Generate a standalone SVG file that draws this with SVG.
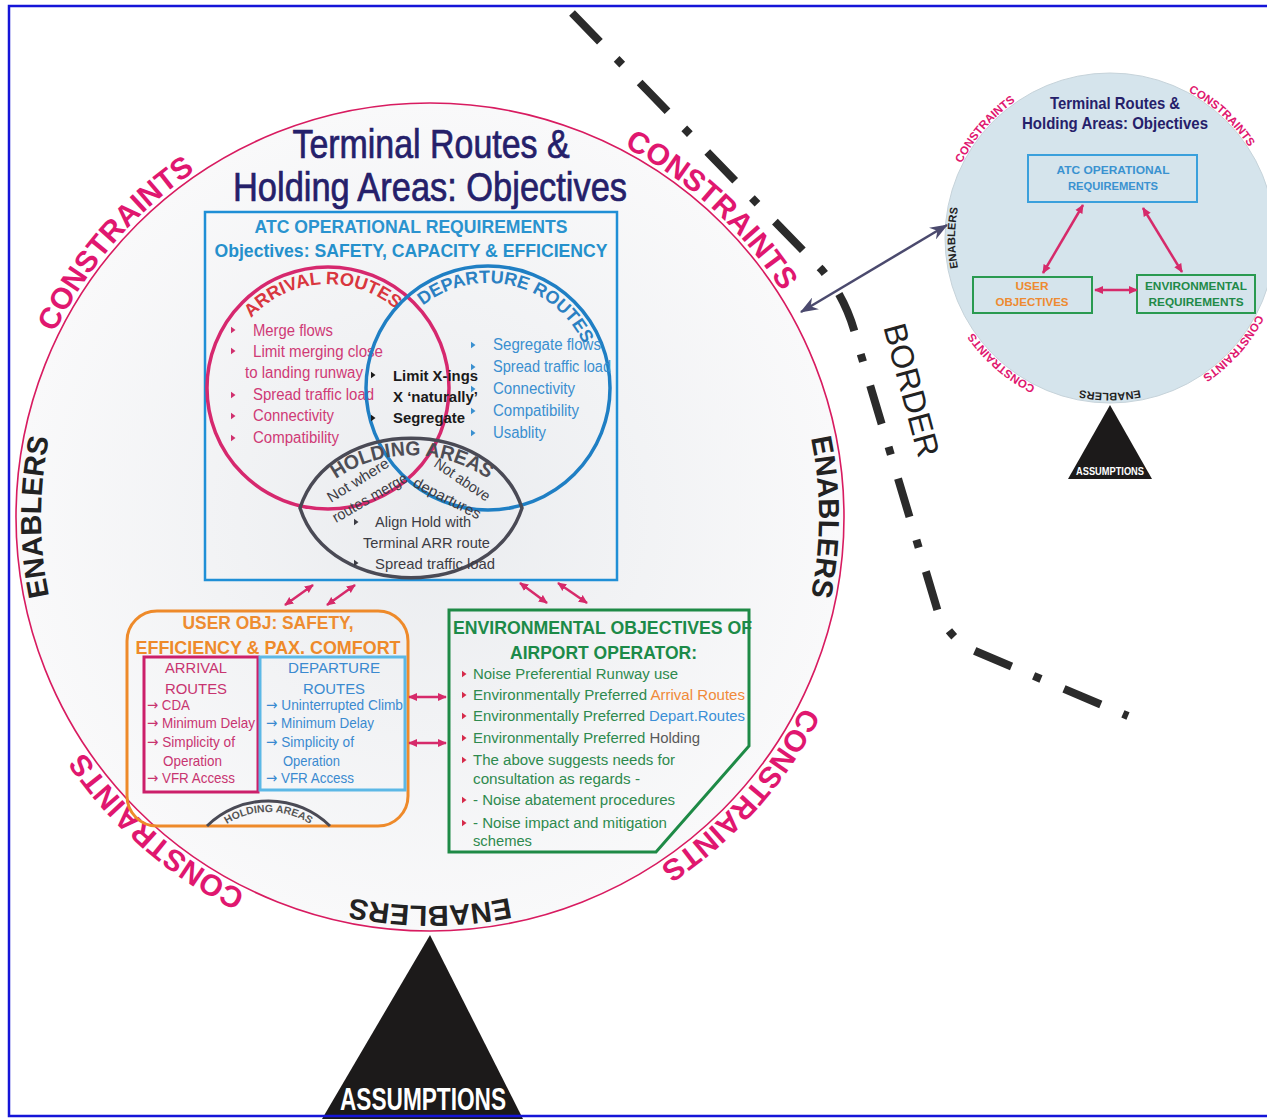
<svg xmlns="http://www.w3.org/2000/svg" width="1267" height="1119" viewBox="0 0 1267 1119">
<style>
text{font-family:"Liberation Sans",Arial,sans-serif}
.b{font-weight:bold}
.ar{font-family:"DejaVu Sans",sans-serif}
.cons{font-weight:bold;fill:#e0176f}
.enab{font-weight:bold;fill:#222}
.arr{fill:#cf3a76;font-size:16px}
.dep{fill:#3a8fd0;font-size:16px}
.hold{fill:#3c3c44;font-size:15px}
.env{fill:#2e8a4e;font-size:15.5px}
.ua{fill:#c83470;font-size:15px}
.ud{fill:#3a8ad0;font-size:15px}
.pk{stroke:#d62a6a;stroke-width:2.5;fill:none}
</style>
<defs>
<radialGradient id="g1" cx="50%" cy="50%" r="50%">
<stop offset="0%" stop-color="#eaecef"/>
<stop offset="100%" stop-color="#f9f9fa"/>
</radialGradient>
<marker id="mp" viewBox="0 0 10 10" refX="9" refY="5" markerWidth="9" markerHeight="9" markerUnits="userSpaceOnUse" orient="auto-start-reverse">
<path d="M10,5 L0,0.5 L0,9.5 Z" fill="#d62a6a"/>
</marker>
<marker id="md" viewBox="0 0 16 12" refX="15" refY="6" markerWidth="18" markerHeight="14" markerUnits="userSpaceOnUse" orient="auto-start-reverse">
<path d="M16,6 L0,0 L5,6 L0,12 Z" fill="#4b4a6e"/>
</marker>
<path id="bul" d="M0,-3.2 L4.5,0 L0,3.2 Z"/>
<path id="c1" d="M12.1,509.7 A418,418 0 0 1 364.6,104.1"/>
<path id="c2" d="M448.2,99.4 A418,418 0 0 1 844.4,462.4"/>
<path id="c3" d="M847.8,530.1 A418,418 0 0 1 489.6,930.7"/>
<path id="c4" d="M422.7,934.9 A418,418 0 0 1 17.1,582.4"/>
<path id="e1" d="M132,767 A389,389 0 0 1 132,267"/>
<path id="e2" d="M728,267 A389,389 0 0 1 728,767"/>
<path id="e3" d="M680,815 A389,389 0 0 1 180,815"/>
<path id="s1" d="M944,235.1 A166,166 0 0 1 1084,74"/>
<path id="s2" d="M1117.2,72.2 A166,166 0 0 1 1274.6,216.3"/>
<path id="s3" d="M1275.9,243.2 A166,166 0 0 1 1133.7,402.3"/>
<path id="s4" d="M1107.1,404 A166,166 0 0 1 946,264"/>
<path id="se1" d="M991.3,337.6 A155,155 0 0 1 991.3,138.4"/>
<path id="se2" d="M1209.6,356.7 A155,155 0 0 1 1010.4,356.7"/>
<path id="arrP" d="M224.7,376.2 A104,104 0 0 1 429.1,363.7"/>
<path id="depP" d="M391.7,346.1 A105,105 0 0 1 592.8,394.4"/>
<path id="holdP" d="M287,541 A134,134 0 0 1 537,541"/>
<path id="hold2P" d="M196.1,862.7 A77,77 0 0 1 340.9,862.7"/>
</defs>
<rect width="1267" height="1119" fill="#ffffff"/>

<g id="main-circle">
<circle cx="430" cy="517" r="414" fill="url(#g1)" stroke="#d81b60" stroke-width="1.6"/>
<text class="cons" font-size="30"><textPath href="#c1" startOffset="50%" text-anchor="middle">CONSTRAINTS</textPath></text>
<text class="cons" font-size="30"><textPath href="#c2" startOffset="50%" text-anchor="middle">CONSTRAINTS</textPath></text>
<text class="cons" font-size="30"><textPath href="#c3" startOffset="50%" text-anchor="middle">CONSTRAINTS</textPath></text>
<text class="cons" font-size="30"><textPath href="#c4" startOffset="50%" text-anchor="middle">CONSTRAINTS</textPath></text>
<text class="enab" font-size="29"><textPath href="#e1" startOffset="50%" text-anchor="middle">ENABLERS</textPath></text>
<text class="enab" font-size="29"><textPath href="#e2" startOffset="50%" text-anchor="middle">ENABLERS</textPath></text>
<text class="enab" font-size="29"><textPath href="#e3" startOffset="50%" text-anchor="middle">ENABLERS</textPath></text>
<text x="431" y="158" font-size="40" fill="#25206a" stroke="#25206a" stroke-width="0.7" text-anchor="middle" textLength="277" lengthAdjust="spacingAndGlyphs">Terminal Routes &amp;</text>
<text x="430" y="201" font-size="40" fill="#25206a" stroke="#25206a" stroke-width="0.7" text-anchor="middle" textLength="394" lengthAdjust="spacingAndGlyphs">Holding Areas: Objectives</text>
</g>

<g id="atc-box">
<rect x="205" y="212" width="412" height="368" fill="none" stroke="#1f8fd6" stroke-width="2.5"/>
<text class="b" x="411" y="233" font-size="18.5" fill="#2a93cf" text-anchor="middle" textLength="313" lengthAdjust="spacingAndGlyphs">ATC OPERATIONAL REQUIREMENTS</text>
<text class="b" x="411" y="257" font-size="18.5" fill="#2590cc" text-anchor="middle" textLength="393" lengthAdjust="spacingAndGlyphs">Objectives: SAFETY, CAPACITY &amp; EFFICIENCY</text>
</g>

<g id="arrival-routes">
<circle cx="328" cy="388" r="121" fill="none" stroke="#d6286e" stroke-width="3.5"/>
<text class="b" font-size="18" fill="#d9363e"><textPath href="#arrP" startOffset="50%" text-anchor="middle" textLength="160" lengthAdjust="spacingAndGlyphs">ARRIVAL ROUTES</textPath></text>
<g fill="#d0306e">
<use href="#bul" x="231" y="330"/><use href="#bul" x="231" y="351"/><use href="#bul" x="231" y="395"/><use href="#bul" x="231" y="416"/><use href="#bul" x="231" y="438"/>
</g>
<text class="arr" x="253" y="336" textLength="80" lengthAdjust="spacingAndGlyphs">Merge flows</text>
<text class="arr" x="253" y="357" textLength="130" lengthAdjust="spacingAndGlyphs">Limit merging close</text>
<text class="arr" x="245" y="378" textLength="118" lengthAdjust="spacingAndGlyphs">to landing runway</text>
<text class="arr" x="253" y="400" textLength="121" lengthAdjust="spacingAndGlyphs">Spread traffic load</text>
<text class="arr" x="253" y="421" textLength="81" lengthAdjust="spacingAndGlyphs">Connectivity</text>
<text class="arr" x="253" y="443" textLength="86" lengthAdjust="spacingAndGlyphs">Compatibility</text>
</g>

<g id="departure-routes">
<circle cx="488" cy="388" r="122" fill="none" stroke="#1f7fc4" stroke-width="3.5"/>
<text class="b" font-size="18" fill="#2a80c2"><textPath href="#depP" startOffset="50%" text-anchor="middle" textLength="190" lengthAdjust="spacingAndGlyphs">DEPARTURE ROUTES</textPath></text>
<g fill="#3a90d0">
<use href="#bul" x="471" y="345"/><use href="#bul" x="471" y="367"/><use href="#bul" x="471" y="389"/><use href="#bul" x="471" y="411"/><use href="#bul" x="471" y="433"/>
</g>
<text class="dep" x="493" y="350" textLength="108" lengthAdjust="spacingAndGlyphs">Segregate flows</text>
<text class="dep" x="493" y="372" textLength="118" lengthAdjust="spacingAndGlyphs">Spread traffic load</text>
<text class="dep" x="493" y="394" textLength="82" lengthAdjust="spacingAndGlyphs">Connectivity</text>
<text class="dep" x="493" y="416" textLength="86" lengthAdjust="spacingAndGlyphs">Compatibility</text>
<text class="dep" x="493" y="438" textLength="53" lengthAdjust="spacingAndGlyphs">Usablity</text>
</g>

<g id="shared">
<g fill="#1a1a1a"><use href="#bul" x="371" y="375"/><use href="#bul" x="371" y="418"/></g>
<text class="b" x="393" y="381" font-size="15" fill="#1a1a1a" textLength="85" lengthAdjust="spacingAndGlyphs">Limit X-ings</text>
<text class="b" x="393" y="402" font-size="15" fill="#1a1a1a" textLength="85" lengthAdjust="spacingAndGlyphs">X ‘naturally’</text>
<text class="b" x="393" y="423" font-size="15" fill="#1a1a1a" textLength="72" lengthAdjust="spacingAndGlyphs">Segregate</text>
</g>

<g id="holding-areas">
<path d="M300,508 C330,415 492,415 522,508 C492,601 330,601 300,508 Z" fill="none" stroke="#4a4a55" stroke-width="3.5"/>
<text class="b" font-size="20" fill="#4d4d55"><textPath href="#holdP" startOffset="50%" text-anchor="middle" textLength="162" lengthAdjust="spacingAndGlyphs">HOLDING AREAS</textPath></text>
<text class="hold" x="331" y="503" transform="rotate(-32 331 503)" textLength="70" lengthAdjust="spacingAndGlyphs">Not where</text>
<text class="hold" x="336" y="523" transform="rotate(-30 336 523)" textLength="84" lengthAdjust="spacingAndGlyphs">routes merge</text>
<text class="hold" x="433" y="466" transform="rotate(34 433 466)" textLength="64" lengthAdjust="spacingAndGlyphs">Not above</text>
<text class="hold" x="412" y="486" transform="rotate(27 412 486)" textLength="74" lengthAdjust="spacingAndGlyphs">departures</text>
<g fill="#3c3c44"><use href="#bul" x="354" y="522"/><use href="#bul" x="354" y="563"/></g>
<text class="hold" x="375" y="527" textLength="96" lengthAdjust="spacingAndGlyphs">Align Hold with</text>
<text class="hold" x="363" y="548" textLength="127" lengthAdjust="spacingAndGlyphs">Terminal ARR route</text>
<text class="hold" x="375" y="569" textLength="120" lengthAdjust="spacingAndGlyphs">Spread traffic load</text>
</g>

<g id="user-objectives">
<rect x="127" y="611" width="281" height="215" rx="30" fill="none" stroke="#ee8a2a" stroke-width="3"/>
<text class="b" x="268" y="629" font-size="18" fill="#ee8c30" text-anchor="middle" textLength="171" lengthAdjust="spacingAndGlyphs">USER OBJ: SAFETY,</text>
<text class="b" x="268" y="654" font-size="18" fill="#ee8a2a" text-anchor="middle" textLength="265" lengthAdjust="spacingAndGlyphs">EFFICIENCY  &amp; PAX. COMFORT</text>
<rect x="144" y="657" width="114" height="135" fill="none" stroke="#cc1f6a" stroke-width="3"/>
<rect x="260" y="657" width="145" height="133" fill="none" stroke="#5cb8e6" stroke-width="3"/>
<text class="ua" x="196" y="673" text-anchor="middle" textLength="62" lengthAdjust="spacingAndGlyphs">ARRIVAL</text>
<text class="ua" x="196" y="694" text-anchor="middle" textLength="62" lengthAdjust="spacingAndGlyphs">ROUTES</text>
<text class="ua" x="147" y="710" textLength="43" lengthAdjust="spacingAndGlyphs"><tspan class="ar">→</tspan> CDA</text>
<text class="ua" x="147" y="728" textLength="108" lengthAdjust="spacingAndGlyphs"><tspan class="ar">→</tspan> Minimum Delay</text>
<text class="ua" x="147" y="747" textLength="88" lengthAdjust="spacingAndGlyphs"><tspan class="ar">→</tspan> Simplicity of</text>
<text class="ua" x="163" y="766" textLength="59" lengthAdjust="spacingAndGlyphs">Operation</text>
<text class="ua" x="147" y="783" textLength="88" lengthAdjust="spacingAndGlyphs"><tspan class="ar">→</tspan> VFR Access</text>
<text class="ud" x="334" y="673" text-anchor="middle" textLength="92" lengthAdjust="spacingAndGlyphs">DEPARTURE</text>
<text class="ud" x="334" y="694" text-anchor="middle" textLength="62" lengthAdjust="spacingAndGlyphs">ROUTES</text>
<text class="ud" x="266" y="710" textLength="137" lengthAdjust="spacingAndGlyphs"><tspan class="ar">→</tspan> Uninterrupted Climb</text>
<text class="ud" x="266" y="728" textLength="108" lengthAdjust="spacingAndGlyphs"><tspan class="ar">→</tspan> Minimum Delay</text>
<text class="ud" x="266" y="747" textLength="88" lengthAdjust="spacingAndGlyphs"><tspan class="ar">→</tspan> Simplicity of</text>
<text class="ud" x="283" y="766" textLength="57" lengthAdjust="spacingAndGlyphs">Operation</text>
<text class="ud" x="266" y="783" textLength="88" lengthAdjust="spacingAndGlyphs"><tspan class="ar">→</tspan> VFR Access</text>
<path d="M207,826 A88,88 0 0 1 330,826" fill="none" stroke="#4a4a55" stroke-width="3"/>
<text class="b" font-size="10.5" fill="#555"><textPath href="#hold2P" startOffset="50%" text-anchor="middle" textLength="88" lengthAdjust="spacingAndGlyphs">HOLDING AREAS</textPath></text>
</g>

<g id="environmental-objectives">
<path d="M449,610 L749,610 L749,746 L656,852 L449,852 Z" fill="none" stroke="#1e8a46" stroke-width="3"/>
<text class="b" x="453" y="634" font-size="18" fill="#1c8a48" textLength="299" lengthAdjust="spacingAndGlyphs">ENVIRONMENTAL OBJECTIVES OF</text>
<text class="b" x="510" y="659" font-size="18" fill="#1c8a48" textLength="187" lengthAdjust="spacingAndGlyphs">AIRPORT OPERATOR:</text>
<g fill="#d62a4a">
<use href="#bul" x="462" y="674"/><use href="#bul" x="462" y="695"/><use href="#bul" x="462" y="716"/><use href="#bul" x="462" y="738"/><use href="#bul" x="462" y="760"/><use href="#bul" x="462" y="800"/><use href="#bul" x="462" y="823"/>
</g>
<text class="env" x="473" y="679" textLength="205" lengthAdjust="spacingAndGlyphs">Noise Preferential Runway use</text>
<text class="env" x="473" y="700" textLength="272" lengthAdjust="spacingAndGlyphs">Environmentally Preferred <tspan fill="#f08a3a">Arrival Routes</tspan></text>
<text class="env" x="473" y="721" textLength="272" lengthAdjust="spacingAndGlyphs">Environmentally Preferred <tspan fill="#3b8fd6">Depart.Routes</tspan></text>
<text class="env" x="473" y="743" textLength="227" lengthAdjust="spacingAndGlyphs">Environmentally Preferred <tspan fill="#5a5a5a">Holding</tspan></text>
<text class="env" x="473" y="765" textLength="202" lengthAdjust="spacingAndGlyphs">The above suggests needs for</text>
<text class="env" x="473" y="784" textLength="167" lengthAdjust="spacingAndGlyphs">consultation as regards -</text>
<text class="env" x="473" y="805" textLength="202" lengthAdjust="spacingAndGlyphs">- Noise abatement procedures</text>
<text class="env" x="473" y="828" textLength="194" lengthAdjust="spacingAndGlyphs">- Noise impact and mitigation</text>
<text class="env" x="473" y="846" textLength="59" lengthAdjust="spacingAndGlyphs">schemes</text>
</g>

<g id="assumptions">
<path d="M430,935 L322,1119 L523,1119 Z" fill="#1c1a1a"/>
<text class="b" x="423" y="1110" font-size="31" fill="#ffffff" text-anchor="middle" textLength="166" lengthAdjust="spacingAndGlyphs">ASSUMPTIONS</text>
</g>

<g id="border">
<path d="M572,13 L822,270 Q848,300 858,345 L938,612 Q950,640 975,651 L1128,716" fill="none" stroke="#2b2b2b" stroke-width="8" stroke-dasharray="40 24 8 25"/>
<text x="901" y="393" font-size="32" fill="#222" text-anchor="middle" transform="rotate(75 901 393)">BORDER</text>
</g>

<g id="small-circle">
<circle cx="1110" cy="238" r="165" fill="#d5e4ec" stroke="#c6d3da" stroke-width="1"/>
<text class="cons" font-size="11.5"><textPath href="#s1" startOffset="50%" text-anchor="middle">CONSTRAINTS</textPath></text>
<text class="cons" font-size="11.5"><textPath href="#s2" startOffset="50%" text-anchor="middle">CONSTRAINTS</textPath></text>
<text class="cons" font-size="11.5"><textPath href="#s3" startOffset="50%" text-anchor="middle">CONSTRAINTS</textPath></text>
<text class="cons" font-size="11.5"><textPath href="#s4" startOffset="50%" text-anchor="middle">CONSTRAINTS</textPath></text>
<text class="enab" font-size="11"><textPath href="#se1" startOffset="50%" text-anchor="middle">ENABLERS</textPath></text>
<text class="enab" font-size="11"><textPath href="#se2" startOffset="50%" text-anchor="middle">ENABLERS</textPath></text>
<text class="b" x="1115" y="109" font-size="17" fill="#25206a" text-anchor="middle" textLength="130" lengthAdjust="spacingAndGlyphs">Terminal Routes &amp;</text>
<text class="b" x="1115" y="129" font-size="17" fill="#25206a" text-anchor="middle" textLength="186" lengthAdjust="spacingAndGlyphs">Holding Areas: Objectives</text>
<path d="M1110,405 L1068,479 L1152,479 Z" fill="#1c1a1a"/>
<text class="b" x="1110" y="475" font-size="10" fill="#ffffff" text-anchor="middle" textLength="68" lengthAdjust="spacingAndGlyphs">ASSUMPTIONS</text>
</g>

<g id="small-atc">
<rect x="1028" y="155" width="169" height="47" fill="none" stroke="#3aa0dc" stroke-width="2"/>
<text class="b" x="1113" y="174" font-size="11" fill="#3a92d0" text-anchor="middle" textLength="113" lengthAdjust="spacingAndGlyphs">ATC OPERATIONAL</text>
<text class="b" x="1113" y="190" font-size="11" fill="#3a92d0" text-anchor="middle" textLength="90" lengthAdjust="spacingAndGlyphs">REQUIREMENTS</text>
</g>
<g id="small-user">
<rect x="973" y="277" width="119" height="36" fill="none" stroke="#2a9a50" stroke-width="2"/>
<text class="b" x="1032" y="290" font-size="11" fill="#ee8a30" text-anchor="middle" textLength="33" lengthAdjust="spacingAndGlyphs">USER</text>
<text class="b" x="1032" y="306" font-size="11" fill="#ee8a30" text-anchor="middle" textLength="73" lengthAdjust="spacingAndGlyphs">OBJECTIVES</text>
</g>
<g id="small-env">
<rect x="1137" y="275" width="118" height="38" fill="none" stroke="#2a9a50" stroke-width="2"/>
<text class="b" x="1196" y="290" font-size="11" fill="#1f8a48" text-anchor="middle" textLength="102" lengthAdjust="spacingAndGlyphs">ENVIRONMENTAL</text>
<text class="b" x="1196" y="306" font-size="11" fill="#1f8a48" text-anchor="middle" textLength="95" lengthAdjust="spacingAndGlyphs">REQUIREMENTS</text>
</g>

<g id="connectors">
<line class="pk" x1="285" y1="605" x2="313" y2="585" marker-start="url(#mp)" marker-end="url(#mp)"/>
<line class="pk" x1="327" y1="605" x2="355" y2="585" marker-start="url(#mp)" marker-end="url(#mp)"/>
<line class="pk" x1="520" y1="583" x2="547" y2="603" marker-start="url(#mp)" marker-end="url(#mp)"/>
<line class="pk" x1="558" y1="583" x2="587" y2="603" marker-start="url(#mp)" marker-end="url(#mp)"/>
<line class="pk" x1="409" y1="697" x2="446" y2="697" marker-start="url(#mp)" marker-end="url(#mp)"/>
<line class="pk" x1="409" y1="743" x2="446" y2="743" stroke-width="3.5" marker-start="url(#mp)" marker-end="url(#mp)"/>
<line class="pk" x1="1083" y1="205" x2="1043" y2="273" stroke-width="2" marker-start="url(#mp)" marker-end="url(#mp)"/>
<line class="pk" x1="1143" y1="208" x2="1182" y2="272" stroke-width="2" marker-start="url(#mp)" marker-end="url(#mp)"/>
<line class="pk" x1="1095" y1="290" x2="1137" y2="290" stroke-width="3" marker-start="url(#mp)" marker-end="url(#mp)"/>
<line x1="801" y1="312" x2="947" y2="225" stroke="#4b4a6e" stroke-width="2.5" marker-start="url(#md)" marker-end="url(#md)"/>
</g>

<g id="frame">
<path d="M1267,6 L9,6 L9,1116 L1267,1116" fill="none" stroke="#1515d8" stroke-width="2.5"/>
</g>
</svg>
